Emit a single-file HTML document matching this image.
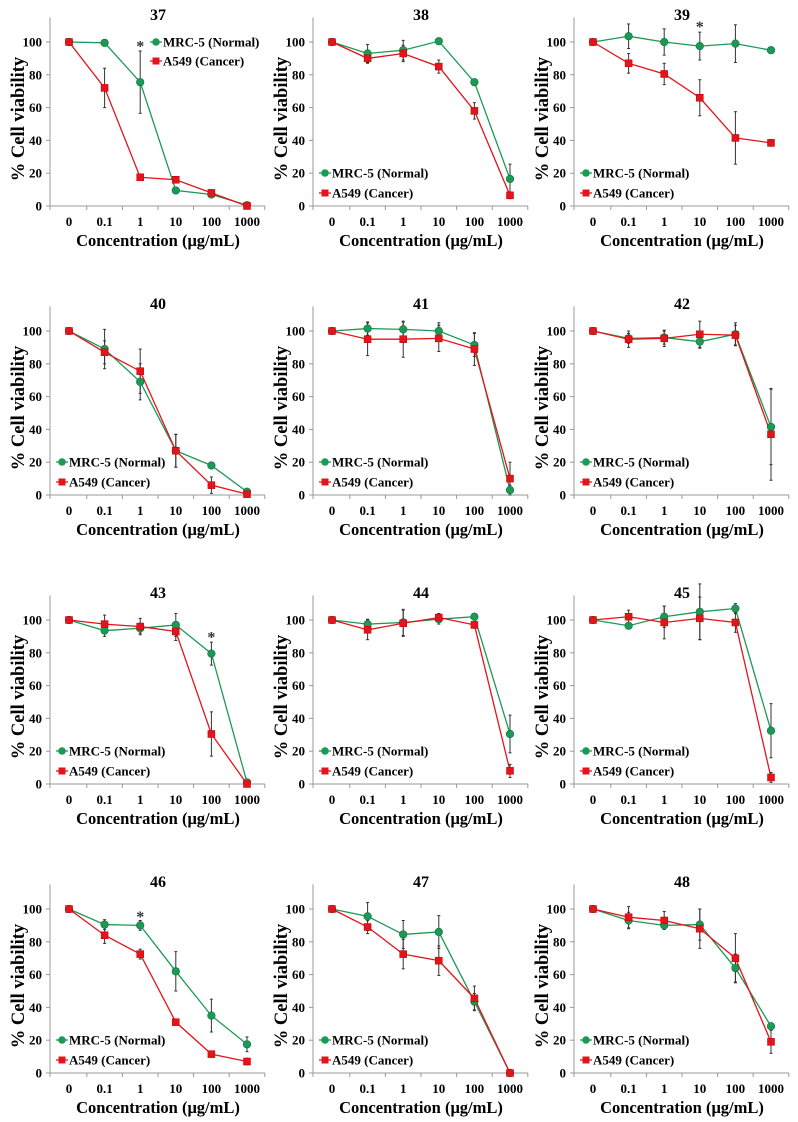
<!DOCTYPE html>
<html><head><meta charset="utf-8"><style>
html,body{margin:0;padding:0;background:#fff;}
svg{display:block;font-family:"Liberation Serif",serif;font-weight:bold;}
</style></head><body>
<svg id="fig" width="798" height="1122" viewBox="0 0 798 1122" xmlns="http://www.w3.org/2000/svg"></svg>
<script>
const categories = ["0","0.1","1","10","100","1000"];
const yTicks = [0,20,40,60,80,100];
const titles = ["37","38","39","40","41","42","43","44","45","46","47","48"];
const normalVals = [
 [100,99.5,75.5,9.5,7,0.5],[100,93,95,100.5,75.5,16.5],[100,103.5,100,97.5,99,95],
 [100,89,69,27,18,2],[100,101.5,101,100,91.5,3],[100,95.5,96,93.5,98,41.5],
 [100,93.5,95,97,79.5,1],[100,97.5,98.5,100.5,102,30.5],[100,96.5,102,105,107,32.5],
 [100,90.5,90,62,35,17.5],[100,95.5,84.5,86,43.5,0],[100,93,90,90.5,64,28.5]];
const normalErr = [
 [0,2,19,1,1,0],[0,5.5,6,0,0,9],[0,7.5,8,8.5,11.5,0],
 [0,12,11,10,1,0],[0,4,4.5,5,7,3],[0,3,4,4,7,23],
 [0,3.5,3,7,7,0],[0,3,8,3,1,11.5],[0,1,6.5,17,3,16.5],
 [0,3,3,12,10,4.5],[0,8.5,8.5,10,5,0],[0,5,1.5,9.5,8.5,1.5]];
const cancerVals = [
 [100,72,17.5,16,8,0],[100,90,93,85,58,6.5],[100,87,80.5,66,41.5,38.5],
 [100,87,75.5,27,6,0.5],[100,95,95,95.5,89,10],[100,95,95.5,98,97.5,37],
 [100,97.5,96,93,30.5,0],[100,94,98,101.5,97,8],[100,102,98.5,101,98.5,4],
 [100,84,72.5,31,11.5,7],[100,89,72.5,68.5,45.5,0],[100,95,93,88,70,19]];
const cancerErr = [
 [0,12,1,1,1.5,0],[0,3,5,4,5,2],[0,6,6.5,11,16,2],
 [0,7,13.5,10,5,0],[0,10,11,8,10,10],[0,5,5,8,6,28],
 [0,5.5,5,5.5,13.5,0],[0,6,8,2.5,2,4],[0,4,10,13,6,3],
 [0,5,3,1,1,2],[0,4,9,9,7.5,0],[0,6.5,5.5,12,15,7]];
const starIdx = [2,-1,3,-1,-1,-1,4,-1,-1,2,-1,-1];
const starVal = [96,0,108,0,0,0,88,0,0,94,0,0];

const NS="http://www.w3.org/2000/svg";
const svg=document.getElementById('fig');
function mk(tag,attrs,parent){const e=document.createElementNS(NS,tag);for(const k in attrs)e.setAttribute(k,attrs[k]);(parent||svg).appendChild(e);return e;}
const colX=[50,313,574], GREEN="#1b9a55", RED="#e3141c";

titles.forEach((t,p)=>{
  const c=p%3, r=Math.floor(p/3);
  const ax=colX[c], y100=42+289*r, y0=y100+164;
  const ys=v=>y0-(v/100)*(y0-y100);
  const xs=i=>ax+19+i*35.6;
  const g=mk('g',{});
  
  
  const title=mk('text',{x:xs(2.5),y:y100-22,'text-anchor':'middle','font-size':16},g);title.textContent=t;
  
  const yAxis=mk('line',{x1:ax,y1:ys(115),x2:ax,y2:y0,stroke:'#999','stroke-width':1},g);
  
  const xAxis=mk('line',{x1:ax,y1:y0,x2:ax+215,y2:y0,stroke:'#999','stroke-width':1},g);
  
  yTicks.forEach(v=>{
    mk('line',{x1:ax-4,y1:ys(v),x2:ax,y2:ys(v),stroke:'#999'},g);
    const tl=mk('text',{x:ax-8,y:ys(v)+4.5,'text-anchor':'end','font-size':13},g);tl.textContent=v;
    
  });
  for(let i=0;i<=6;i++){const tx=ax+19+(i-0.5)*35.6+ (i===0?-1.2:0);mk('line',{x1:tx,y1:y0,x2:tx,y2:y0+4,stroke:'#999'},g);}
  categories.forEach((cat,i)=>{
    const tl=mk('text',{x:xs(i),y:y0+20,'text-anchor':'middle','font-size':13},g);tl.textContent=cat;
    
  });
  const xt=mk('text',{x:xs(2.5),y:y0+40,'text-anchor':'middle','font-size':16.5},g);xt.textContent='Concentration (μg/mL)';
  
  const yt=mk('text',{x:0,y:0,'text-anchor':'middle','font-size':18.5,transform:`translate(${ax-26},${ys(50)-5}) rotate(-90)`},g);yt.textContent='% Cell viability';
  
  [[normalVals[p],normalErr[p],GREEN,'normal'],[cancerVals[p],cancerErr[p],RED,'cancer']].forEach(([vals,errs,col,nm])=>{
    const pts=vals.map((v,i)=>xs(i)+','+ys(v)).join(' ');
    const ln=mk('polyline',{points:pts,fill:'none',stroke:col,'stroke-width':1.3},g);
    
    vals.forEach((v,i)=>{
      if(errs[i]>0){
        const eb=mk('g',{stroke:'#333','stroke-width':1},g);
        
        mk('line',{x1:xs(i),y1:ys(v-errs[i]),x2:xs(i),y2:ys(v+errs[i])},eb);
        mk('line',{x1:xs(i)-1.5,y1:ys(v-errs[i]),x2:xs(i)+1.5,y2:ys(v-errs[i])},eb);
        mk('line',{x1:xs(i)-1.5,y1:ys(v+errs[i]),x2:xs(i)+1.5,y2:ys(v+errs[i])},eb);
      }
    });
  });
  normalVals[p].forEach((v,i)=>{const m=mk('circle',{cx:xs(i),cy:ys(v),r:3.8,fill:GREEN,stroke:'#137040','stroke-width':0.6},g);
    });
  cancerVals[p].forEach((v,i)=>{const m=mk('rect',{x:xs(i)-3.5,y:ys(v)-3.5,width:7,height:7,fill:RED,stroke:'#b00','stroke-width':0.5},g);
    });
  if(starIdx[p]>=0){const s=mk('text',{x:xs(starIdx[p]),y:ys(starVal[p])+3,'text-anchor':'middle','font-size':16,fill:'#333'},g);s.textContent='*';
    }
  let lx,ly1,ly2;
  if(p===0){lx=ax+106;ly1=y100;ly2=y100+19;} else {lx=ax+12;ly1=y0-33;ly2=y0-13;}
  const lg=mk('g',{},g);
  const e1=mk('g',{},lg);
  mk('line',{x1:lx-6,y1:ly1,x2:lx+6,y2:ly1,stroke:GREEN,'stroke-width':1.3},e1);
  mk('circle',{cx:lx,cy:ly1,r:3.8,fill:GREEN},e1);
  const t1=mk('text',{x:lx+7,y:ly1+4.5,'font-size':13},e1);t1.textContent='MRC-5 (Normal)';
  const e2=mk('g',{},lg);
  mk('line',{x1:lx-6,y1:ly2,x2:lx+6,y2:ly2,stroke:RED,'stroke-width':1.3},e2);
  mk('rect',{x:lx-3.5,y:ly2-3.5,width:7,height:7,fill:RED},e2);
  const t2=mk('text',{x:lx+7,y:ly2+4.5,'font-size':13},e2);t2.textContent='A549 (Cancer)';
});
</script>
</body></html>
